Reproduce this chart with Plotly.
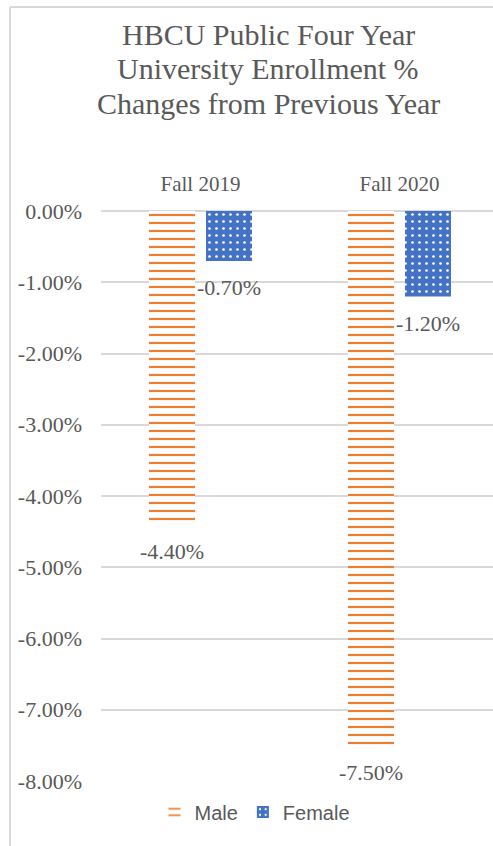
import plotly.graph_objects as go

categories = ["Fall 2019", "Fall 2020"]
male = [-4.4, -7.5]
female = [-0.7, -1.2]
tick_vals = [0, -1, -2, -3, -4, -5, -6, -7, -8]
tick_text = ["0.00%", "-1.00%", "-2.00%", "-3.00%", "-4.00%", "-5.00%", "-6.00%", "-7.00%", "-8.00%"]
title_lines = ["HBCU Public Four Year", "University Enrollment %", "Changes from Previous Year"]

GRAY = "#595959"
GRID = "#D9D9D9"
SERIF = "Liberation Serif, Times New Roman, serif"
SANS = "Liberation Sans, Arial, sans-serif"

ML, MT, MB = 101, 211, 65
W, H = 493, 846
pw = W - ML
ph = H - MT - MB

def px2x(px):
    return (px - ML) / pw

def py2y(py):
    return (H - MB - py) / ph

fig = go.Figure()
fig.add_trace(go.Bar(
    name="Male", x=categories, y=male,
    marker=dict(color="white", line=dict(width=0),
                pattern=dict(shape="-", fgcolor="#ED7D31", bgcolor="white", fgopacity=1,
                             size=8, solidity=0.27, fillmode="overlay")),
    cliponaxis=False,
))
fig.add_trace(go.Bar(
    name="Female", x=categories, y=female,
    marker=dict(color="#4472C4", line=dict(width=0),
                pattern=dict(shape=".", fgcolor="white", bgcolor="#4472C4", fgopacity=1,
                             size=7, solidity=0.12, fillmode="overlay")),
    cliponaxis=False,
))

annotations = []
# data labels below bar ends
for vals, shift in ((male, -28.5), (female, 28.5)):
    for c, v in zip(categories, vals):
        annotations.append(dict(
            x=c, y=v, xref="x", yref="y", text=f"{v:.2f}%", showarrow=False,
            xshift=shift, yshift=-27, yanchor="middle", xanchor="center",
            font=dict(family=SERIF, size=22, color=GRAY)))
# title lines (pixel positions converted to paper coords)
for line, cy in zip(title_lines, (35, 69, 103)):
    annotations.append(dict(
        x=px2x(268), y=py2y(cy), xref="paper", yref="paper",
        text=line, showarrow=False, xanchor="center", yanchor="middle",
        font=dict(family=SERIF, size=30, color=GRAY)))

fig.update_layout(
    width=W, height=H, autosize=False,
    margin=dict(l=ML, r=0, t=MT, b=MB, pad=0, autoexpand=False),
    paper_bgcolor="white", plot_bgcolor="white",
    barmode="group", bargap=0.427, bargroupgap=0.193,
    xaxis=dict(side="top", type="category", range=[-0.5, 1.47], automargin=False,
               showgrid=False, showline=False, ticks="", tickangle=0,
               tickfont=dict(family=SERIF, size=21, color=GRAY),
               ticklabelstandoff=15),
    yaxis=dict(range=[-8, 0], tickvals=tick_vals, ticktext=tick_text, automargin=False,
               showgrid=True, gridcolor=GRID, gridwidth=1.5,
               zeroline=True, zerolinecolor=GRID, zerolinewidth=1.5,
               showline=False, ticks="",
               tickfont=dict(family=SERIF, size=22, color=GRAY),
               ticklabelstandoff=18),
    legend=dict(orientation="h", x=255 / W, xref="container", xanchor="center",
                y=1 - 812 / H, yref="container", yanchor="middle",
                font=dict(family=SANS, size=20, color=GRAY),
                itemclick=False),
    showlegend=True,
    annotations=annotations,
    shapes=[
        dict(type="line", xref="paper", yref="paper",
             x0=px2x(10), x1=px2x(10), y0=py2y(7), y1=py2y(846),
             line=dict(color=GRID, width=2)),
        dict(type="line", xref="paper", yref="paper",
             x0=px2x(10), x1=px2x(493), y0=py2y(7), y1=py2y(7),
             line=dict(color=GRID, width=2)),
    ],
)

fig.write_html("out.html", config={"displayModeBar": False},
               post_script="document.body.style.margin='0';document.body.style.overflow='hidden';")
